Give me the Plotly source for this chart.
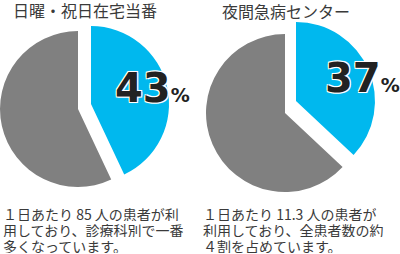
import plotly.graph_objects as go

W, H = 400, 254

titles = ["日曜・祝日在宅当番", "夜間急病センター"]
slice_labels = ["利用", "その他"]
share_pct = [43, 37]
other_pct = [57, 63]
notes = [
    ["１日あたり 85 人の患者が利", "用しており、診療科別で一番", "多くなっています。"],
    ["１日あたり 11.3 人の患者が", "利用しており、全患者数の約", "４割を占めています。"],
]

BLUE = "#00B8EE"
GRAY = "#808080"
CLEAR = "rgba(0,0,0,0)"
TEXT = "#3a3a3a"
CJK = "Noto Sans CJK JP"

# pixel geometry of each pie: (cx, cy, r) for the rest slice and the pulled slice
geo = [
    {"rest": (78, 109, 78), "pulled": (91, 104, 78), "title": (85, 10), "pct": (113, 88), "note_x": 2},
    {"rest": (285, 113, 79), "pulled": (296, 101, 79), "title": (286, 11), "pct": (323, 78), "note_x": 202},
]


def dom(c):
    cx, cy, r = c
    return dict(x=[(cx - r) / W, (cx + r) / W], y=[(H - cy - r) / H, (H - cy + r) / H])


fig = go.Figure()
annotations = []
outline = "-1px -1px 0 #fff, 1px -1px 0 #fff, -1px 1px 0 #fff, 1px 1px 0 #fff, 0 0 2px #fff"

for i in range(2):
    g = geo[i]
    vals = [share_pct[i], other_pct[i]]
    # rest slice (gray) in place
    fig.add_trace(go.Pie(
        labels=slice_labels, values=vals, sort=False, direction="clockwise", rotation=0,
        marker=dict(colors=[CLEAR, GRAY], line=dict(width=0)),
        textinfo="none", hoverinfo="skip", showlegend=False, domain=dom(g["rest"]),
    ))
    # pulled slice (blue)
    fig.add_trace(go.Pie(
        labels=slice_labels, values=vals, sort=False, direction="clockwise", rotation=0,
        marker=dict(colors=[BLUE, CLEAR], line=dict(width=0)),
        textinfo="none", hoverinfo="skip", showlegend=False, domain=dom(g["pulled"]),
    ))
    tx, ty = g["title"]
    annotations.append(dict(
        text=titles[i], x=tx / W, y=1 - ty / H, xref="paper", yref="paper",
        xanchor="center", yanchor="middle", showarrow=False, height=18, borderpad=0,
        font=dict(family=CJK, size=16, color=TEXT),
    ))
    px_, py_ = g["pct"]
    annotations.append(dict(
        text=f"{share_pct[i]}<span style='font-size:19px'>%</span>",
        x=px_ / W, y=1 - py_ / H, xref="paper", yref="paper",
        xanchor="left", yanchor="middle", showarrow=False,
        font=dict(family="DejaVu Sans", size=40, color="#222222", weight="bold", shadow=outline),
    ))
    for j, line in enumerate(notes[i]):
        annotations.append(dict(
            text=line, x=g["note_x"] / W, y=1 - (213 + 16 * j) / H, xref="paper", yref="paper",
            xanchor="left", yanchor="middle", showarrow=False, height=15, borderpad=0,
            font=dict(family=CJK, size=14, color=TEXT),
        ))

fig.update_layout(
    width=W, height=H, margin=dict(l=0, r=0, t=0, b=0),
    paper_bgcolor="white", plot_bgcolor="white",
    annotations=annotations, showlegend=False,
)

fig.write_html(
    "out.html",
    config={"displayModeBar": False},
    post_script="document.body.style.margin='0';document.body.style.padding='0';",
)
